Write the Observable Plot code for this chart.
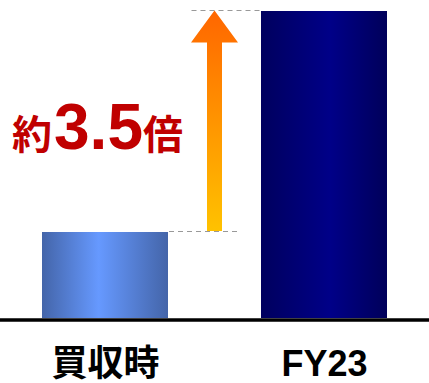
<!DOCTYPE html>
<html>
<head>
<meta charset="utf-8">
<script src="https://cdn.jsdelivr.net/npm/d3@7"></script>
<script src="https://cdn.jsdelivr.net/npm/@observablehq/plot@0.6"></script>
<style>
  html, body { margin: 0; padding: 0; background: #fff; }
  #chart svg { display: block; }
</style>
</head>
<body>
<div id="chart"></div>
<script>
// ---- data ----
const categories = ["買収時", "FY23"];
const values = [1.0, 3.57];
const barFills = ["url(#gradA)", "url(#gradB)"];
const multiplePrefix = "約";
const multipleValue = "3.5";
const multipleSuffix = "倍";

const data = categories.map((c, i) => ({cat: c, val: values[i], fill: barFills[i]}));
const FONT = "'Liberation Sans', Arial, 'Noto Sans CJK JP', sans-serif";

const chart = Plot.plot({
  width: 429,
  height: 383,
  marginTop: 11,
  marginBottom: 65,
  marginLeft: 0,
  marginRight: 0,
  style: {fontFamily: FONT, background: "#fff", overflow: "visible"},
  x: {domain: categories, range: [0, 429], paddingInner: 0.425, paddingOuter: 0.19, label: null},
  y: {domain: [0, values[1]], axis: null},
  color: {type: "identity"},
  marks: [
    Plot.barY(data, {x: "cat", y: "val", fill: "fill"}),
    Plot.ruleY([0], {stroke: "#000", strokeWidth: 3.5, dy: 1.5}),
    Plot.axisX({tickSize: 0, tickPadding: 32, fontSize: 36, fontWeight: "bold", fill: "#000", label: null})
  ]
});
document.getElementById("chart").appendChild(chart);

const svg = d3.select(chart);
const defs = svg.insert("defs", ":first-child");
function hgrad(id, stops, vertical) {
  const g = defs.append("linearGradient").attr("id", id)
    .attr("x1", 0).attr("y1", 0).attr("x2", vertical ? 0 : 1).attr("y2", vertical ? 1 : 0);
  stops.forEach(([o, c]) => g.append("stop").attr("offset", o).attr("stop-color", c));
}
hgrad("gradA", [[0, "#4465A9"], [0.45, "#6699FF"], [1, "#4465A9"]]);
hgrad("gradB", [[0, "#00005E"], [0.55, "#000088"], [1, "#00005A"]]);
hgrad("gradArrow", [[0, "#FF6600"], [1, "#FFC200"]], true);

// annotation placed via the plot's own scales
const xs = chart.scale("x");
const ys = chart.scale("y");
const bw = xs.bandwidth;
const x1 = xs.apply(categories[0]) + bw;     // right edge of first bar
const x2 = xs.apply(categories[1]);          // left edge of second bar
const cx = (x1 + x2) / 2;
const yLow = ys.apply(values[0]);
const yHigh = ys.apply(values[1]);

const ann = svg.append("g");
// dashed guide lines
ann.append("line").attr("x1", cx - 23).attr("x2", x2).attr("y1", yHigh - 0.5).attr("y2", yHigh - 0.5)
  .attr("stroke", "#999").attr("stroke-width", 1.2).attr("stroke-dasharray", "5,4");
ann.append("line").attr("x1", x1 + 1).attr("x2", cx + 23).attr("y1", yLow - 0.5).attr("y2", yLow - 0.5)
  .attr("stroke", "#999").attr("stroke-width", 1.2).attr("stroke-dasharray", "5,4");
// arrow
const tip = yHigh - 0.5, headBase = tip + 32, hw = 23.5, sw = 7.5, bottom = yLow - 1;
ann.append("path")
  .attr("d", `M${cx},${tip} L${cx + hw},${headBase} L${cx + sw},${headBase} L${cx + sw},${bottom} L${cx - sw},${bottom} L${cx - sw},${headBase} L${cx - hw},${headBase} Z`)
  .attr("fill", "url(#gradArrow)");
// multiple label
const t = ann.append("text")
  .attr("x", x1 - 156)
  .attr("y", (yLow + yHigh) / 2 + 27.5)
  .attr("text-anchor", "start")
  .attr("fill", "#C00000")
  .attr("font-weight", "bold")
  .attr("font-family", FONT);
t.append("tspan").attr("font-size", 40).attr("font-family", "'Noto Sans CJK JP', sans-serif").text(multiplePrefix);
t.append("tspan").attr("font-size", 64).attr("dx", 2).text(multipleValue);
t.append("tspan").attr("font-size", 40).attr("font-family", "'Noto Sans CJK JP', sans-serif").text(multipleSuffix);
</script>
</body>
</html>
